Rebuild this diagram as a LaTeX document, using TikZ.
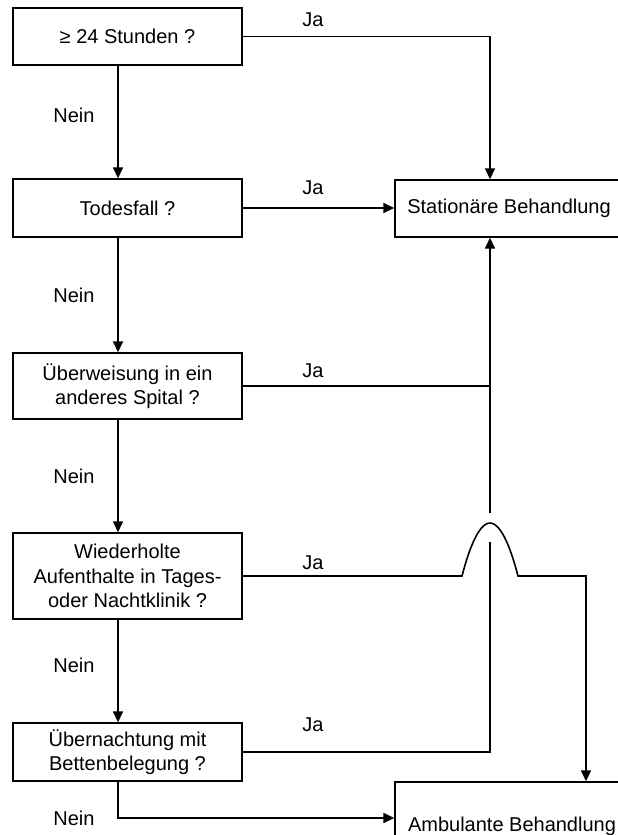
\documentclass[tikz,border=0pt]{standalone}
\usepackage{fontspec}
\setmainfont{Liberation Sans}
\usetikzlibrary{positioning,arrows.meta,calc}

\begin{document}
\begin{tikzpicture}[
    x=1pt, y=-1pt,
    qbox/.style={draw, line width=1.4pt, align=center, inner sep=2pt,
        font=\fontsize{20}{24.5}\selectfont, minimum width=229pt},
    link/.style={line width=1.6pt},
    arr/.style={link, -{Triangle[length=11pt, width=10pt]}},
    lbl/.style={font=\fontsize{20}{24}\selectfont, inner sep=0pt}
]
    \clip (0,0) rectangle (618,835);

    % Question boxes (left column)
    \node[qbox, minimum height=57pt] (qHours) at (127.5, 36.5) {≥ 24 Stunden ?};
    \node[qbox, minimum height=58pt] (qDeath) at (127.5, 208) {Todesfall ?};
    \node[qbox, minimum height=66pt] (qTransfer) at (127.5, 386) {Überweisung in ein\\anderes Spital ?};
    \node[qbox, minimum height=86pt] (qRepeat) at (127.5, 576) {Wiederholte\\Aufenthalte in Tages-\\oder Nachtklinik ?};
    \node[qbox, minimum height=58pt] (qNight) at (127.5, 752) {Übernachtung mit\\Bettenbelegung ?};

    % Outcome boxes (right, partly cut by the page edge)
    \node[qbox, minimum width=228pt, minimum height=57pt] (inPatient) at (509, 208.5) {Stationäre Behandlung};
    \node[qbox, minimum width=234pt, minimum height=88pt] (outPatient) at (512, 826) {Ambulante Behandlung};

    % Helper coordinates for the vertical runs
    \coordinate (spine) at (118, 0);
    \coordinate (trunk) at (490, 0);
    \coordinate (sideRun) at (586, 0);
    \coordinate (gapTop) at (490, 513);
    \coordinate (gapBot) at (490, 542);
    \coordinate (humpL) at (462, 576);
    \coordinate (humpR) at (518, 576);
    \coordinate (neinRun) at (118, 818);

    % Nein branch (downwards)
    \draw[arr] (qHours.south -| spine) -- (qDeath.north -| spine);
    \draw[arr] (qDeath.south -| spine) -- (qTransfer.north -| spine);
    \draw[arr] (qTransfer.south -| spine) -- (qRepeat.north -| spine);
    \draw[arr] (qRepeat.south -| spine) -- (qNight.north -| spine);
    \draw[arr] (qNight.south -| spine) |- (outPatient.west |- neinRun);

    % Ja branches
    \draw[arr] (qHours.east) -- (qHours.east -| trunk) -- (inPatient.north -| trunk);
    \draw[arr] (qDeath.east) -- (inPatient.west |- qDeath.east);
    \draw[link] (qTransfer.east) -- (qTransfer.east -| trunk);
    \draw[arr] (gapTop) -- (inPatient.south -| trunk);
    \draw[link] (qNight.east) -- (qNight.east -| trunk) -- (gapBot);

    % Jump over the trunk
    \draw[arr] (qRepeat.east) -- (humpL) parabola bend (490, 523) (humpR)
        -- (humpR -| sideRun) -- (outPatient.north -| sideRun);

    % Branch labels
    \node[lbl] (jaHours) at (313, 20) {Ja};
    \node[lbl] (jaDeath) at (313, 188) {Ja};
    \node[lbl] (jaTransfer) at (313, 371) {Ja};
    \node[lbl] (jaRepeat) at (313, 563) {Ja};
    \node[lbl] (jaNight) at (313, 725) {Ja};
    \node[lbl] (neinHours) at (74, 115) {Nein};
    \node[lbl] (neinDeath) at (74, 295) {Nein};
    \node[lbl] (neinTransfer) at (74, 476) {Nein};
    \node[lbl] (neinRepeat) at (74, 665) {Nein};
    \node[lbl] (neinNight) at (74, 818) {Nein};
\end{tikzpicture}
\end{document}
